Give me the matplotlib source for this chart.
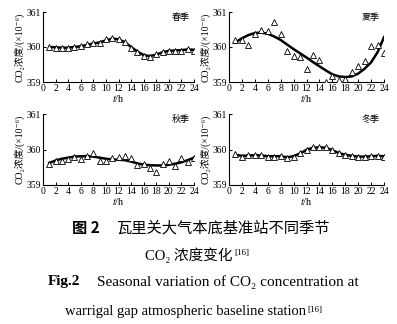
import matplotlib.pyplot as plt
from matplotlib.ticker import MultipleLocator

plt.rcParams['mathtext.fontset'] = 'stix'

SERIF = ['Liberation Serif', 'Noto Sans CJK SC', 'DejaVu Sans']
CJK = ['Noto Sans CJK SC', 'DejaVu Sans']

HOURS = list(range(1, 25))

# measured points (triangles) and fitted curve, in 10^-6
SPRING_PTS = [360.00, 359.98, 359.98, 359.98, 360.00, 360.03, 360.08, 360.12,
              360.12, 360.23, 360.25, 360.22, 360.14, 359.98, 359.86, 359.74,
              359.72, 359.79, 359.86, 359.90, 359.90, 359.90, 359.95, 359.90]
SPRING_FIT = [360.00, 359.99, 359.98, 359.98, 360.00, 360.02, 360.06, 360.10,
              360.13, 360.19, 360.24, 360.22, 360.14, 360.00, 359.87, 359.77,
              359.74, 359.78, 359.85, 359.89, 359.90, 359.91, 359.93, 359.92]

SUMMER_PTS = [360.20, 360.20, 360.06, 360.36, 360.49, 360.46, 360.72, 360.38,
              359.88, 359.74, 359.72, 359.36, 359.78, 359.62, 359.00, 359.16,
              359.07, 359.09, 359.28, 359.47, 359.59, 360.03, 360.05, 359.84]
SUMMER_FIT = [360.13, 360.25, 360.34, 360.40, 360.41, 360.38, 360.30, 360.20,
              360.07, 359.94, 359.82, 359.70, 359.57, 359.45, 359.33, 359.22,
              359.16, 359.14, 359.16, 359.24, 359.38, 359.56, 359.85, 360.28]

AUTUMN_PTS = [359.58, 359.67, 359.67, 359.72, 359.79, 359.73, 359.82, 359.90,
              359.69, 359.67, 359.77, 359.79, 359.82, 359.75, 359.56, 359.58,
              359.48, 359.37, 359.58, 359.67, 359.54, 359.75, 359.65, 359.77]
AUTUMN_FIT = [359.62, 359.69, 359.74, 359.77, 359.80, 359.81, 359.81, 359.80,
              359.77, 359.74, 359.72, 359.71, 359.70, 359.66, 359.61, 359.57,
              359.56, 359.55, 359.55, 359.57, 359.60, 359.64, 359.70, 359.77]

WINTER_PTS = [359.86, 359.80, 359.84, 359.84, 359.84, 359.80, 359.80, 359.82,
              359.75, 359.80, 359.89, 360.00, 360.06, 360.06, 360.06, 359.98,
              359.89, 359.84, 359.82, 359.78, 359.80, 359.82, 359.82, 359.80]
WINTER_FIT = [359.85, 359.82, 359.83, 359.84, 359.83, 359.81, 359.81, 359.81,
              359.78, 359.81, 359.89, 359.99, 360.05, 360.06, 360.05, 359.98,
              359.90, 359.85, 359.82, 359.80, 359.80, 359.81, 359.82, 359.81]

SEASONS = ['春季', '夏季', '秋季', '冬季']
PANELS = [(SPRING_PTS, SPRING_FIT), (SUMMER_PTS, SUMMER_FIT),
          (AUTUMN_PTS, AUTUMN_FIT), (WINTER_PTS, WINTER_FIT)]

W, H = 397, 324
BOXES = [(43, 12, 194, 82), (229, 12, 384, 82),
         (43, 114, 194, 185), (229, 114, 384, 185)]

fig = plt.figure(figsize=(W / 100, H / 100), dpi=100)

for (pts, fit), name, (x0, y0, x1, y1) in zip(PANELS, SEASONS, BOXES):
  ax = fig.add_axes([x0 / W, 1 - y1 / H, (x1 - x0) / W, (y1 - y0) / H])
  ax.plot(HOURS, fit, color='black', linewidth=1.8, zorder=2)
  ax.plot(HOURS, pts, linestyle='none', marker='^', markersize=4.5,
          markerfacecolor='white', markeredgecolor='black',
          markeredgewidth=0.6, zorder=3)
  ax.set_xlim(0, 24)
  ax.set_ylim(359, 361)
  ax.xaxis.set_major_locator(MultipleLocator(2))
  ax.yaxis.set_major_locator(MultipleLocator(1))
  ax.spines['top'].set_visible(False)
  ax.spines['right'].set_visible(False)
  for s in ('left', 'bottom'):
    ax.spines[s].set_linewidth(0.8)
  ax.tick_params(direction='in', length=2.5, width=0.7, pad=1.5, labelsize=7)
  for lab in ax.get_xticklabels() + ax.get_yticklabels():
    lab.set_family(SERIF)
  ax.set_xlabel(r'$t$/h', fontsize=7.5, family=SERIF, labelpad=0)
  ax.set_ylabel('CO₂浓度/(×10⁻⁶)', fontsize=7, family=SERIF, labelpad=1.5)
  ax.text(0.97, 0.99, name, transform=ax.transAxes, ha='right', va='top',
          fontsize=6.5, family=CJK)

# caption
fig.text(72 / W, 1 - 228 / H, '图 2', fontsize=11, family=CJK,
         fontweight='bold', ha='left', va='center')
fig.text(117 / W, 1 - 228 / H, '瓦里关大气本底基准站不同季节', fontsize=11,
         family=CJK, ha='left', va='center')
t2 = fig.text(145 / W, 1 - 255 / H, 'CO₂ 浓度变化', fontsize=10.5,
              family=SERIF, ha='left', va='center')
fig.text(48 / W, 1 - 282 / H, 'Fig.2', fontsize=11, family=SERIF,
         fontweight='bold', ha='left', va='center')
fig.text(97 / W, 1 - 282 / H, 'Seasonal variation of CO₂ concentration at',
         fontsize=11, family=SERIF, ha='left', va='center')
t4 = fig.text(65 / W, 1 - 311 / H, 'warrigal gap atmospheric baseline station',
              fontsize=10.5, family=SERIF, ha='left', va='center')
for t in (t2, t4):
  fig.texts.append(plt.Annotation('[16]', xy=(1, 1), xycoords=t,
                                  xytext=(1, -1), textcoords='offset points',
                                  fontsize=6.5, family=SERIF,
                                  ha='left', va='top'))
  fig.texts[-1].set_figure(fig)

fig.savefig('out.png', dpi=100)
